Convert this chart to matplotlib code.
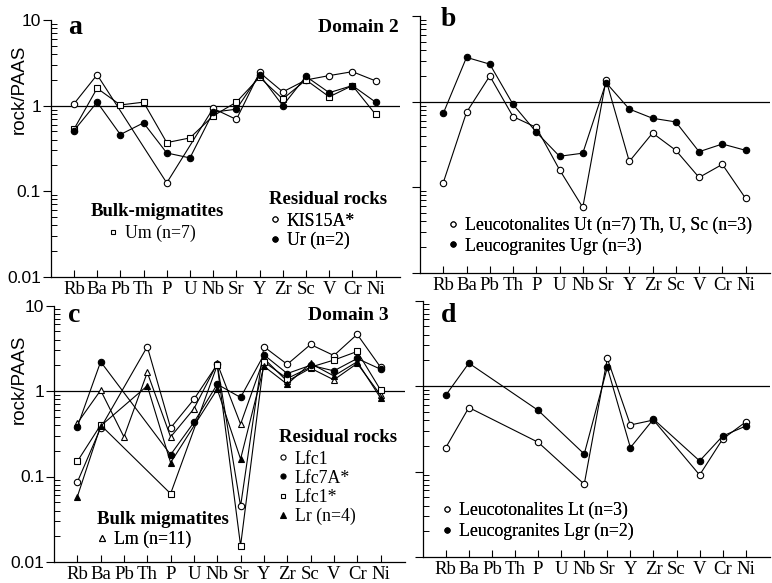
import numpy as np
import matplotlib
matplotlib.use("Agg")
import matplotlib.pyplot as plt
from matplotlib.lines import Line2D
from matplotlib.ticker import FixedLocator, LogLocator, NullFormatter

elements = ["Rb", "Ba", "Pb", "Th", "P", "U", "Nb", "Sr", "Y", "Zr", "Sc", "V", "Cr", "Ni"]
N = None

# panel a - Domain 2
kis15a = [1.05, 2.3, N, N, 0.125, N, 0.93, 0.69, 2.45, 1.45, 2.0, 2.25, 2.5, 1.95]
ur = [0.51, 1.1, 0.46, 0.63, 0.28, 0.245, 0.84, 0.91, 2.3, 1.0, 2.2, 1.42, 1.72, 1.1]
um = [0.53, 1.6, 1.02, 1.1, 0.37, 0.42, 0.76, 1.1, 2.15, 1.2, 2.0, 1.27, 1.72, 0.79]

# panel b
ut = [0.113, 0.75, 2.0, 0.67, 0.5, 0.16, 0.058, 1.8, 0.2, 0.43, 0.27, 0.13, 0.185, 0.074]
ugr = [0.73, 3.3, 2.75, 0.93, 0.44, 0.23, 0.25, 1.67, 0.82, 0.64, 0.58, 0.26, 0.32, 0.27]

# panel c - Domain 3
lfc1 = [0.086, 0.37, N, 3.3, 0.37, 0.8, 2.05, 0.045, 3.3, 2.05, 3.5, 2.6, 4.6, 1.9]
lfc7a = [0.38, 2.2, N, N, 0.18, 0.43, 1.2, 0.84, 2.65, 1.6, 2.0, 1.72, 2.4, 1.8]
lfc1s = [0.15, 0.4, N, N, 0.063, N, 2.0, 0.0155, 2.2, 1.4, 1.9, 2.3, 2.9, 1.03]
lr = [0.058, 0.39, N, 1.15, 0.145, N, 1.05, 0.16, 1.95, 1.2, 2.1, 1.5, 2.2, 0.83]
lm = [0.42, 1.02, 0.29, 1.65, 0.29, 0.62, 2.1, 0.41, 2.4, 1.3, 1.85, 1.35, 2.1, 0.9]

# panel d
lt = [0.19, 0.56, N, N, 0.22, N, 0.071, 2.1, 0.35, 0.40, N, 0.091, 0.24, 0.38]
lgr = [0.78, 1.85, N, N, 0.52, N, 0.16, 1.65, 0.19, 0.41, N, 0.133, 0.26, 0.34]

W, H = 772, 583
SERIF = "Liberation Serif"
SANS = "Liberation Sans"

fig = plt.figure(figsize=(W / 100, H / 100), dpi=100)


def px(x, y):
    return x / W, 1 - y / H


def box(left, top, right, bottom):
    return [left / W, 1 - bottom / H, (right - left) / W, (bottom - top) / H]


OPEN_C = dict(marker="o", mfc="white", ms=4.6)
FILL_C = dict(marker="o", mfc="black", ms=4.6)
OPEN_S = dict(marker="s", mfc="white", ms=4.2)
FILL_T = dict(marker="^", mfc="black", ms=4.6)
OPEN_T = dict(marker="^", mfc="white", ms=4.8)


def series(ax, vals, style):
    x = [i for i, v in enumerate(vals) if v is not None]
    y = [v for v in vals if v is not None]
    ax.plot(x, y, color="black", lw=0.8, mec="black", mew=0.8, **style)


def setup(ax, ylabels, label_xy=None):
    ax.set_yscale("log")
    ax.set_ylim(0.01, 10)
    ax.set_xlim(-1, 14.05)
    ax.axhline(1, color="black", lw=0.9, zorder=1)
    ax.spines["top"].set_visible(False)
    ax.spines["right"].set_visible(False)
    for s in ("left", "bottom"):
        ax.spines[s].set_linewidth(0.9)
    ax.set_xticks(range(len(elements)))
    ax.set_xticklabels(elements, fontfamily=SERIF, fontsize=13.5)
    ax.tick_params(axis="x", direction="in", length=5, width=0.8, pad=3)
    ax.yaxis.set_major_locator(FixedLocator([0.01, 0.1, 1, 10]))
    ax.yaxis.set_minor_locator(LogLocator(base=10, subs=np.arange(2, 10)))
    ax.yaxis.set_minor_formatter(NullFormatter())
    ax.tick_params(axis="y", which="major", direction="out", length=6, width=0.8, pad=1)
    ax.tick_params(axis="y", which="minor", direction="in", length=4, width=0.7)
    if ylabels:
        ax.set_yticklabels(["0.01", "0.1", "1", "10"], fontfamily=SANS, fontsize=12.5)
        ax.set_ylabel("rock/PAAS", fontfamily=SANS, fontsize=13.5)
        ax.yaxis.set_label_coords(*label_xy)
    else:
        ax.set_yticklabels([])


def heading(text, x, y, ha="left"):
    fig.text(*px(x, y), text, fontfamily=SERIF, fontsize=13.5, weight="bold",
             va="center", ha=ha)


def legend(ax, entries, x, y, spacing=0.12):
    handles = [Line2D([], [], color="black", ls="none", mec="black", mew=0.8,
                      **dict(st, ms=st["ms"] * 0.8)) for st, _ in entries]
    labels = [lab for _, lab in entries]
    leg = ax.legend(handles, labels, loc="upper left",
                    bbox_to_anchor=px(x, y), bbox_transform=fig.transFigure,
                    frameon=False, handlelength=0.6, handletextpad=0.35,
                    labelspacing=spacing, borderpad=0, borderaxespad=0,
                    prop=dict(family=SERIF, size=12.8))
    ax.add_artist(leg)


# ---- a
axa = fig.add_axes(box(50.7, 20.2, 400, 276.7))
setup(axa, True, (-0.066, 0.73))
series(axa, kis15a, OPEN_C)
series(axa, um, OPEN_S)
series(axa, ur, FILL_C)
fig.text(*px(68, 27), "a", fontfamily=SERIF, fontsize=20, weight="bold", va="center")
fig.text(*px(399, 28), "Domain 2", fontfamily=SERIF, fontsize=14, weight="bold",
         va="center", ha="right")
heading("Bulk-migmatites", 157, 211, ha="center")
legend(axa, [(OPEN_S, "Um (n=7)")], 108, 224.5)
heading("Residual rocks", 269, 199)
legend(axa, [(OPEN_C, "KIS15A*"), (FILL_C, "Ur (n=2)")], 270, 212.5)

# ---- b
axb = fig.add_axes(box(420, 16.2, 770, 272.7))
setup(axb, False)
series(axb, ut, OPEN_C)
series(axb, ugr, FILL_C)
fig.text(*px(441, 20), "b", fontfamily=SERIF, fontsize=20, weight="bold", va="center")
legend(axb, [(OPEN_C, "Leucotonalites Ut (n=7) Th, U, Sc (n=3)"),
             (FILL_C, "Leucogranites Ugr (n=3)")], 448, 216.5, spacing=0.2)

# ---- c
axc = fig.add_axes(box(54, 305.5, 405, 562))
setup(axc, True, (-0.075, 0.713))
series(axc, lm, OPEN_T)
series(axc, lfc1, OPEN_C)
series(axc, lfc1s, OPEN_S)
series(axc, lfc7a, FILL_C)
series(axc, lr, FILL_T)
fig.text(*px(68, 315), "c", fontfamily=SERIF, fontsize=20, weight="bold", va="center")
fig.text(*px(389, 316), "Domain 3", fontfamily=SERIF, fontsize=14, weight="bold",
         va="center", ha="right")
heading("Residual rocks", 279, 437)
legend(axc, [(OPEN_C, "Lfc1"), (FILL_C, "Lfc7A*"),
             (OPEN_S, "Lfc1*"), (FILL_T, "Lr (n=4)")], 278, 450.5)
heading("Bulk migmatites", 97, 520)
legend(axc, [(OPEN_T, "Lm (n=11)")], 97, 530.5)

# ---- d
axd = fig.add_axes(box(422.7, 300.5, 770, 557))
setup(axd, False)
series(axd, lt, OPEN_C)
series(axd, lgr, FILL_C)
fig.text(*px(441, 316), "d", fontfamily=SERIF, fontsize=20, weight="bold", va="center")
legend(axd, [(OPEN_C, "Leucotonalites Lt (n=3)"),
             (FILL_C, "Leucogranites Lgr (n=2)")], 442, 502, spacing=0.2)

fig.savefig("out.png", dpi=100)
